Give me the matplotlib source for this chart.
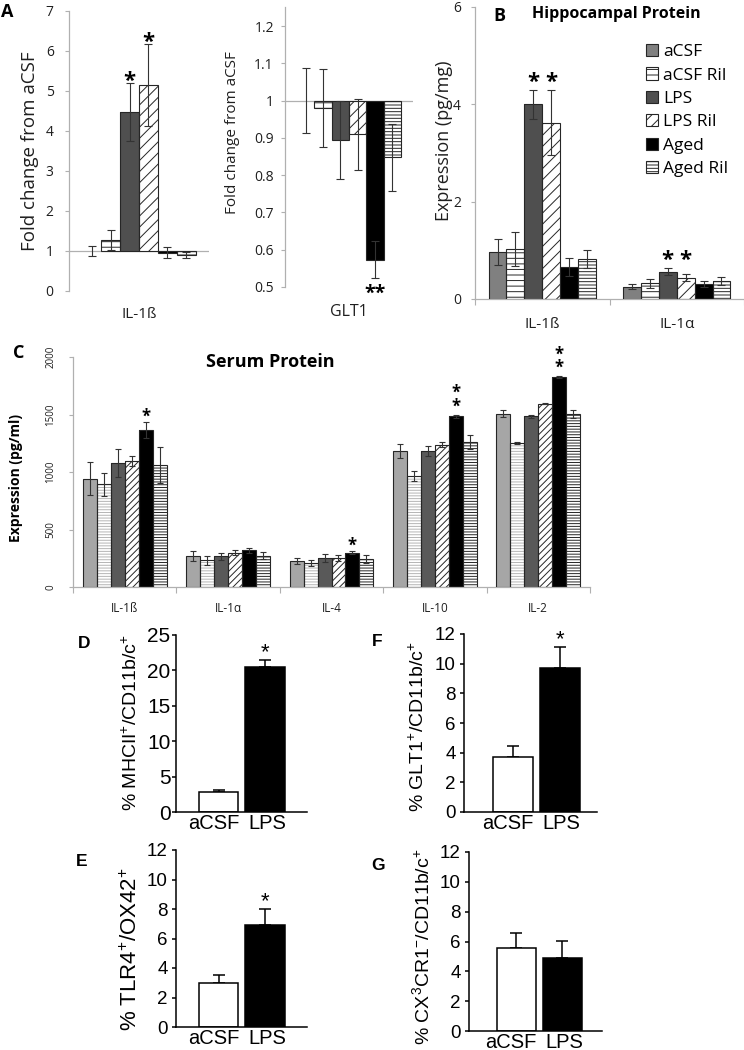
import numpy as np
import matplotlib
matplotlib.use("Agg")
import matplotlib.pyplot as plt
from matplotlib.patches import Patch

# ---------------- data ----------------
groups = ["aCSF", "aCSF Ril", "LPS", "LPS Ril", "Aged", "Aged Ril"]

# Panel A: fold change from aCSF
a_il1b = [1.00, 1.28, 4.48, 5.15, 0.96, 0.90]
a_il1b_err = [0.13, 0.25, 0.73, 1.02, 0.14, 0.07]
a_il1b_sig = ["", "", "*", "*", "", ""]
a_glt1 = [1.00, 0.98, 0.895, 0.91, 0.573, 0.848]
a_glt1_err = [0.088, 0.105, 0.105, 0.095, 0.05, 0.09]
a_glt1_sig = ["", "", "", "", "**", ""]

# Panel B: hippocampal protein (pg/mg), rows = groups, cols = cytokines
b_cats = ["IL-1ß", "IL-1α"]
b_vals = [[0.96, 0.25], [1.02, 0.32], [4.00, 0.56], [3.62, 0.44], [0.66, 0.30], [0.82, 0.37]]
b_errs = [[0.27, 0.05], [0.35, 0.09], [0.30, 0.07], [0.67, 0.07], [0.18, 0.06], [0.18, 0.09]]
b_sig = [["", ""], ["", ""], ["*", "*"], ["*", "*"], ["", ""], ["", ""]]

# Panel C: serum protein (pg/ml)
c_cats = ["IL-1ß", "IL-1α", "IL-4", "IL-10", "IL-2"]
c_vals = [[942, 270, 226, 1183, 1507],
          [893, 232, 209, 965, 1255],
          [1078, 267, 255, 1180, 1484],
          [1093, 296, 252, 1238, 1594],
          [1362, 319, 299, 1484, 1823],
          [1061, 272, 243, 1261, 1501]]
c_errs = [[145, 43, 29, 63, 29],
          [100, 38, 29, 40, 10],
          [120, 30, 35, 43, 15],
          [45, 22, 23, 23, 6],
          [70, 22, 10, 15, 8],
          [160, 30, 32, 64, 35]]
c_sig = [["", "", "", "", ""], ["", "", "", "", ""], ["", "", "", "", ""],
         ["", "", "", "", ""], ["*", "", "*", "**", "**"], ["", "", "", "", ""]]

# Panels D-G: flow cytometry
flow_groups = ["aCSF", "LPS"]
d_vals = [2.77, 20.5]; d_errs = [0.40, 1.00]; d_sig = ["", "*"]
f_vals = [3.70, 9.73]; f_errs = [0.76, 1.40]; f_sig = ["", "*"]
e_vals = [2.98, 6.93]; e_errs = [0.56, 1.07]; e_sig = ["", "*"]
g_vals = [5.54, 4.87]; g_errs = [1.00, 1.16]; g_sig = ["", ""]

# ---------------- style ----------------
SANS = ["Open Sans", "DejaVu Sans"]
ARIAL = ["Liberation Sans", "DejaVu Sans"]
plt.rcParams["font.family"] = SANS
plt.rcParams["hatch.linewidth"] = 0.7
plt.rcParams["mathtext.fontset"] = "custom"
plt.rcParams["mathtext.rm"] = "Liberation Sans"
plt.rcParams["mathtext.it"] = "Liberation Sans:italic"
plt.rcParams["mathtext.bf"] = "Liberation Sans:bold"

GRAY = "#b0b0b0"
TXT = "#1f1f1f"
ab_colors = ["#808080", "white", "#4f4f4f", "white", "black", "white"]
ab_hatches = [None, "---", None, "///", None, "-----"]
ab_hcolors = ["#262626"] * 6
c_colors = ["#a6a6a6", "white", "#595959", "white", "black", "white"]
c_hatches = [None, "------", None, "/////", None, "------"]
c_hcolors = ["#262626", "#b5b5b5", "#262626", "#262626", "#262626", "#262626"]

W, H = 744, 1050
fig = plt.figure(figsize=(W / 100, H / 100), dpi=100)


def px_axes(l, t, r, b):
    return fig.add_axes([l / W, 1 - b / H, (r - l) / W, (b - t) / H])


def ftext(x, y, s, **kw):
    kw.setdefault("ha", "center")
    kw.setdefault("va", "center")
    return fig.text(x / W, 1 - y / H, s, **kw)


def star(ax, x, y, dy_px, s="*", size=14, weight="bold", family=SANS, linespacing=1.2):
    size_px = size * 100 / 72
    off_px = dy_px - 0.58 * size_px
    ax.annotate(s, xy=(x, y), xytext=(0, off_px * 0.72), textcoords="offset points",
                ha="center", va="baseline", fontsize=size, fontweight=weight,
                family=family, zorder=6, annotation_clip=False, linespacing=linespacing)


def grouped_bars(ax, vals, errs, width, colors, hatches, hcolors, base=0.0,
                 capsize=2.5, elw=0.8):
    vals = np.asarray(vals, float)
    errs = np.asarray(errs, float)
    ng, nc = vals.shape
    xs = []
    for i in range(ng):
        x = np.arange(nc) + (i - (ng - 1) / 2) * width
        h = vals[i] - base
        ax.bar(x, h, width, bottom=base, color=colors[i], edgecolor=hcolors[i],
               linewidth=0, hatch=hatches[i], zorder=2)
        ax.bar(x, h, width, bottom=base, fill=False, edgecolor="#262626",
               linewidth=np.where(np.abs(h) < 1e-9, 0, 0.8), zorder=3)
        ax.errorbar(x, vals[i], yerr=errs[i], fmt="none", ecolor="#333333",
                    elinewidth=elw, capsize=capsize, capthick=elw, zorder=4)
        xs.append(x)
    return xs


def excel_axes(ax, labelsize=10, pad=6):
    for s in ["top", "right"]:
        ax.spines[s].set_visible(False)
    ax.spines["left"].set_color(GRAY)
    ax.spines["bottom"].set_color(GRAY)
    ax.spines["left"].set_linewidth(0.9)
    ax.spines["bottom"].set_linewidth(0.9)
    ax.tick_params(axis="y", direction="out", length=3, width=0.8, color=GRAY,
                   labelsize=labelsize, labelcolor=TXT, pad=pad)


# ---------------- Panel A (left: IL-1ß) ----------------
axA1 = px_axes(69, 11, 209, 291)
excel_axes(axA1, labelsize=10, pad=8)
axA1.spines["bottom"].set_visible(False)
axA1.set_xlim(-0.5, 0.5)
axA1.set_ylim(0, 7)
axA1.set_yticks(range(0, 8))
axA1.set_xticks([])
axA1.axhline(1, color=GRAY, lw=0.9, zorder=1)
xs = grouped_bars(axA1, np.array(a_il1b)[:, None], np.array(a_il1b_err)[:, None], 0.135,
                  ab_colors, ab_hatches, ab_hcolors, base=1.0, capsize=3)
for i, s in enumerate(a_il1b_sig):
    if s:
        star(axA1, xs[i][0], a_il1b[i] + a_il1b_err[i], 9, s, size=16)
ftext(139, 314, "IL-1ß", fontsize=11, color=TXT)
ftext(30, 151, "Fold change from aCSF", rotation=90, fontsize=13.5, color=TXT)
ftext(7, 12, "A", fontsize=13, fontweight="bold")

# ---------------- Panel A (right: GLT1) ----------------
axA2 = px_axes(285, 7.4, 413, 287)
excel_axes(axA2, labelsize=10, pad=5)
axA2.spines["bottom"].set_visible(False)
axA2.set_xlim(-0.5, 0.5)
axA2.set_ylim(0.5, 1.25)
yt = np.round(np.arange(0.5, 1.21, 0.1), 1)
axA2.set_yticks(yt)
axA2.set_yticklabels([f"{v:g}" for v in yt])
axA2.set_xticks([])
axA2.axhline(1, color=GRAY, lw=0.9, zorder=1)
xs = grouped_bars(axA2, np.array(a_glt1)[:, None], np.array(a_glt1_err)[:, None], 0.135,
                  ab_colors, ab_hatches, ab_hcolors, base=1.0, capsize=3)
for i, s in enumerate(a_glt1_sig):
    if s:
        star(axA2, xs[i][0], a_glt1[i] - a_glt1_err[i], -9, s, size=14)
ftext(349, 312, "GLT1", fontsize=11.5, color=TXT)
ftext(232, 133, "Fold change from aCSF", rotation=90, fontsize=11, color=TXT)

# ---------------- Panel B ----------------
axB = px_axes(475, 7, 744, 299)
excel_axes(axB, labelsize=10, pad=7)
axB.set_xlim(-0.5, 1.5)
axB.set_ylim(0, 6)
axB.set_yticks([0, 2, 4, 6])
axB.set_xticks([-0.5, 0.5, 1.5])
axB.set_xticklabels([])
axB.set_xticks([0, 1], minor=True)
axB.set_xticklabels(b_cats, minor=True)
axB.tick_params(axis="x", which="major", direction="out", length=4, color=GRAY)
axB.tick_params(axis="x", which="minor", length=0, pad=13, labelsize=11, labelcolor=TXT)
xs = grouped_bars(axB, b_vals, b_errs, 0.133, ab_colors, ab_hatches, ab_hcolors, capsize=3)
bv = np.array(b_vals); be = np.array(b_errs)
for j in range(len(b_cats)):
    idx = [i for i in range(len(groups)) if b_sig[i][j]]
    if idx:
        top = max(bv[i, j] + be[i, j] for i in idx)
        for i in idx:
            star(axB, xs[i][j], top, 15, b_sig[i][j], size=16)
handles = [Patch(facecolor=ab_colors[i], edgecolor="#262626", hatch=ab_hatches[i], linewidth=0.8)
           for i in range(len(groups))]
fig.legend(handles, groups, loc="upper left", bbox_to_anchor=(646 / W, 1 - 44 / H),
           frameon=False, fontsize=12.5, handlelength=0.7, handleheight=0.7,
           handletextpad=0.3, labelspacing=0.42, borderpad=0, borderaxespad=0)
ftext(444, 141, "Expression (pg/mg)", rotation=90, fontsize=13, color=TXT)
ftext(499, 16, "B", fontsize=13, fontweight="bold")
ftext(616, 14, "Hippocampal Protein", fontsize=11.5, fontweight="bold")

# ---------------- Panel C ----------------
axC = px_axes(73, 357, 590, 587)
excel_axes(axC, labelsize=7, pad=9)
axC.set_xlim(-0.5, len(c_cats) - 0.5)
axC.set_ylim(0, 2000)
cyt = [0, 500, 1000, 1500, 2000]
axC.set_yticks(cyt)
axC.set_yticklabels([str(v) for v in cyt], rotation=90, va="center")
axC.set_xticks(np.arange(len(c_cats) + 1) - 0.5)
axC.set_xticklabels([])
axC.set_xticks(np.arange(len(c_cats)), minor=True)
axC.set_xticklabels(c_cats, minor=True)
axC.tick_params(axis="x", which="major", direction="out", length=4, color=GRAY)
axC.tick_params(axis="x", which="minor", length=0, pad=11, labelsize=8.5, labelcolor=TXT)
xs = grouped_bars(axC, c_vals, c_errs, 0.135, c_colors, c_hatches, c_hcolors, capsize=2.2)
cv = np.array(c_vals); ce = np.array(c_errs)
for i in range(len(groups)):
    for j in range(len(c_cats)):
        s = c_sig[i][j]
        if s == "*":
            star(axC, xs[i][j], cv[i, j] + ce[i, j], 10, "*", size=12)
        elif s == "**":
            star(axC, xs[i][j], cv[i, j] + ce[i, j], 13, "*\n*", size=12, linespacing=0.7)
ftext(16, 478, "Expression (pg/ml)", rotation=90, fontsize=10, fontweight="bold")
ftext(19, 353, "C", fontsize=13, fontweight="bold")
ftext(270, 362, "Serum Protein", fontsize=13, fontweight="bold")


# ---------------- Panels D-G ----------------
def flow_panel(box, xlim, width, ymax, step, vals, errs, sig, ylabel, ylabel_xy,
               ylabel_size, tick_size, tick_pad, letter, letter_xy):
    ax = px_axes(*box)
    for s in ["top", "right"]:
        ax.spines[s].set_visible(False)
    for s in ["left", "bottom"]:
        ax.spines[s].set_linewidth(1.1)
        ax.spines[s].set_color("black")
    ax.set_xlim(*xlim)
    ax.set_ylim(0, ymax)
    ax.set_yticks(np.arange(0, ymax + 0.01, step))
    x = np.arange(len(flow_groups))
    ax.bar(x, vals, width, color=["white", "black"], edgecolor="black", linewidth=1.1, zorder=2)
    ax.errorbar(x, vals, yerr=[np.zeros(len(vals)), errs], fmt="none", ecolor="black",
                elinewidth=1.1, capsize=4.5, capthick=1.1, zorder=1)
    ax.set_xticks([])
    ax.tick_params(axis="y", direction="out", length=3, width=1.1, labelsize=tick_size,
                   pad=tick_pad, labelfontfamily=ARIAL[0])
    # category labels, nudged apart slightly like the reference
    for xi, lab, dx in zip(x, flow_groups, [-5, 2]):
        ax.annotate(lab, xy=(xi, 0), xytext=(dx * 0.72, -1.5), textcoords="offset points",
                    ha="center", va="top", fontsize=14.5, family=ARIAL,
                    annotation_clip=False)
    for i, s in enumerate(sig):
        if s:
            star(ax, x[i], vals[i] + errs[i], 14.5, s, size=16, weight="normal", family=ARIAL)
    ftext(*ylabel_xy, ylabel, rotation=90, fontsize=ylabel_size, family=ARIAL)
    ftext(*letter_xy, letter, fontsize=12.5, fontweight="bold", family=ARIAL)
    return ax


flow_panel((176, 635, 307, 812), (-0.914, 1.903), 0.84, 25, 5, d_vals, d_errs, d_sig,
           r"% MHCII$^{+}$/CD11b/c$^{+}$", (131, 723), 14, 15, 1, "D", (84, 643))
flow_panel((464, 634, 597, 812), (-1.054, 1.806), 0.86, 12, 2, f_vals, f_errs, f_sig,
           r"% GLT1$^{+}$/CD11b/c$^{+}$", (418, 727), 14, 13.5, 3, "F", (377, 642))
flow_panel((176, 850, 307, 1027), (-0.914, 1.903), 0.84, 12, 2, e_vals, e_errs, e_sig,
           r"% TLR4$^{+}$/OX42$^{+}$", (131, 949), 16, 13.5, 3, "E", (82, 862))
flow_panel((469, 852, 602, 1031), (-1.03, 1.87), 0.85, 12, 2, g_vals, g_errs, g_sig,
           r"% CX$^{3}$CR1$^{-}$/CD11b/c$^{+}$", (422, 947), 14, 13.5, 3, "G", (378, 866))

fig.savefig("out.png", dpi=100)
